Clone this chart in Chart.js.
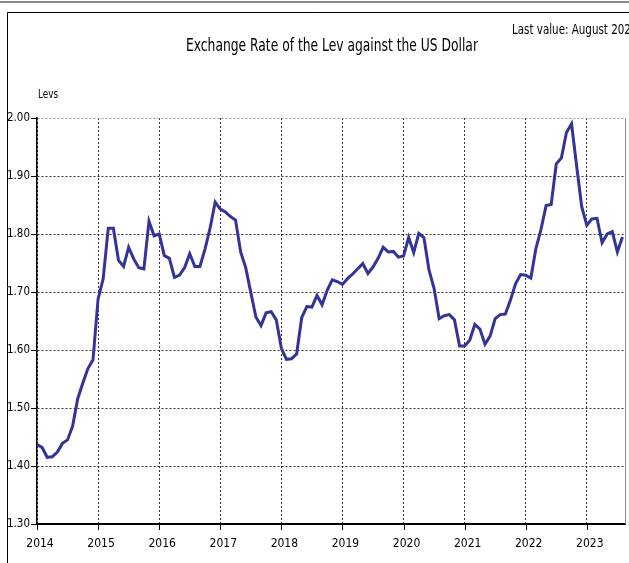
<!DOCTYPE html>
<html><head><meta charset="utf-8">
<style>html,body{margin:0;padding:0;background:#fff;overflow:hidden}#wrap{width:629px;height:563px;position:relative}</style>
<script src="https://cdn.jsdelivr.net/npm/chart.js@4"></script>
</head><body><div id="wrap"><canvas id="c" width="629" height="563"></canvas></div>
<script>
const FONT = "'DejaVu Sans Condensed','Liberation Sans Narrow','Arial Narrow',sans-serif";
const titleText = 'Exchange Rate of the Lev against the US Dollar';
const noteText = 'Last value: August 2023';
const unitText = 'Levs';
const yearLabels = ['2014','2015','2016','2017','2018','2019','2020','2021','2022','2023'];
const yTicks = [1.30,1.40,1.50,1.60,1.70,1.80,1.90,2.00];

const v2014 = [1.437,1.432,1.415,1.416,1.424,1.439,1.445,1.469,1.516,1.543,1.568,1.583];
const v2015 = [1.688,1.723,1.810,1.810,1.755,1.744,1.777,1.757,1.742,1.740,1.822,1.797];
const v2016 = [1.800,1.763,1.758,1.725,1.729,1.742,1.766,1.744,1.744,1.774,1.810,1.855];
const v2017 = [1.843,1.838,1.830,1.824,1.769,1.742,1.699,1.657,1.642,1.664,1.666,1.652];
const v2018 = [1.603,1.584,1.585,1.593,1.656,1.675,1.674,1.694,1.678,1.703,1.721,1.718];
const v2019 = [1.713,1.723,1.731,1.740,1.749,1.732,1.743,1.758,1.777,1.769,1.770,1.760];
const v2020 = [1.762,1.794,1.768,1.801,1.794,1.738,1.706,1.654,1.659,1.661,1.652,1.607];
const v2021 = [1.607,1.617,1.644,1.636,1.610,1.624,1.654,1.661,1.662,1.686,1.714,1.730];
const v2022 = [1.729,1.724,1.775,1.808,1.849,1.851,1.921,1.931,1.975,1.990,1.917,1.847];
const v2023 = [1.815,1.826,1.827,1.785,1.800,1.804,1.769,1.795];

const values = [].concat(v2014,v2015,v2016,v2017,v2018,v2019,v2020,v2021,v2022,v2023);
const points = values.map((y,i)=>({x:i,y:y}));

function squishText(ctx, text, x, y, font, align, sx){
  ctx.save();
  ctx.font = font;
  ctx.textAlign = align;
  ctx.textBaseline = 'middle';
  ctx.translate(x, y);
  ctx.scale(sx, 1);
  ctx.fillText(text, 0, 0);
  ctx.restore();
}

const framePlugin = {
  id:'frame',
  beforeDraw(chart){
    const ctx = chart.ctx;
    ctx.save();
    ctx.fillStyle = '#fff';
    ctx.fillRect(0,0,chart.width,chart.height);
    ctx.strokeStyle = '#8a8a8a'; ctx.lineWidth = 2;
    ctx.beginPath(); ctx.moveTo(0,2); ctx.lineTo(chart.width,2); ctx.stroke();
    ctx.strokeStyle = '#000'; ctx.lineWidth = 1;
    ctx.beginPath(); ctx.moveTo(chart.width,12.5); ctx.lineTo(7.5,12.5); ctx.lineTo(7.5,chart.height); ctx.stroke();
    ctx.restore();
  },
  beforeDatasetsDraw(chart){
    const ctx = chart.ctx, a = chart.chartArea;
    const xs = chart.scales.x, ys = chart.scales.y;
    ctx.save();
    ctx.strokeStyle = '#8a8a8a'; ctx.lineWidth = 1;
    ctx.beginPath(); ctx.moveTo(Math.round(a.right)+0.5,a.top); ctx.lineTo(Math.round(a.right)+0.5,a.bottom); ctx.stroke();
    ctx.strokeStyle = '#000'; ctx.lineWidth = 1;
    ctx.beginPath();
    yTicks.forEach(v=>{ const p = Math.round(ys.getPixelForValue(v))+0.5; ctx.moveTo(a.left-6,p); ctx.lineTo(a.left,p); });
    yearLabels.forEach((l,k)=>{ const p = Math.round(xs.getPixelForValue(k*12))+0.5; ctx.moveTo(p,a.bottom); ctx.lineTo(p,a.bottom+6); });
    ctx.stroke();
    ctx.restore();
  },
  afterDraw(chart){
    const ctx = chart.ctx;
    ctx.save();
    ctx.fillStyle = '#000';
    squishText(ctx, titleText, 332, 46, '18px ' + FONT, 'center', 0.76);
    squishText(ctx, noteText, 512, 30, '14px ' + FONT, 'left', 0.82);
    squishText(ctx, unitText, 38, 95, '12px ' + FONT, 'left', 0.82);
    ctx.restore();
  }
};

new Chart(document.getElementById('c'), {
  type:'line',
  data:{ datasets:[{ data: points, borderColor:'#333399', borderWidth:3, pointRadius:0, tension:0, fill:false }] },
  options:{
    responsive:false, animation:false, devicePixelRatio:1,
    layout:{ padding:{ top:118, right:4, left:0, bottom:0 } },
    plugins:{ legend:{display:false}, tooltip:{enabled:false}, title:{display:false} },
    scales:{
      x:{
        type:'linear', min:0, max:115.5,
        afterBuildTicks:(s)=>{ s.ticks = yearLabels.map((_,k)=>({value:k*12})); },
        afterFit:(s)=>{ s.height = 39; },
        ticks:{ callback:(v)=> yearLabels[Math.round(v/12)], color:'#000', font:{family:FONT,size:12}, maxRotation:0, autoSkip:false, padding:13, labelOffset:3 },
        grid:{ color:'#333', lineWidth:1, drawTicks:false },
        border:{ display:true, color:'#000', width:2, dash:[2,2] }
      },
      y:{
        min:1.3, max:2.0,
        afterBuildTicks:(s)=>{ s.ticks = yTicks.map(v=>({value:v})); },
        afterFit:(s)=>{ s.width = 37; },
        ticks:{ callback:(v)=> Number(v).toFixed(2), color:'#000', font:{family:FONT,size:11.5}, padding:7 },
        grid:{ color:(c)=> (c.tick && c.tick.value>1.995) ? '#9a9a9a' : '#333', lineWidth:1, drawTicks:false },
        border:{ display:true, color:'#000', width:1.5, dash:[2,2] }
      }
    }
  },
  plugins:[framePlugin]
});
</script></body></html>
